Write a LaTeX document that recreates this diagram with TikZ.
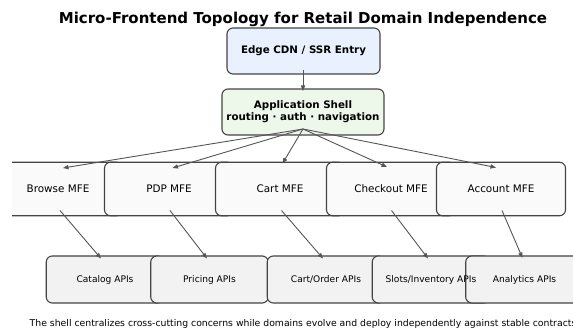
\documentclass[tikz,border=0pt]{standalone}
\usepackage{fontspec}
\setmainfont{DejaVu Sans}
\usetikzlibrary{arrows.meta,calc}
\definecolor{bordc}{HTML}{444444}
\definecolor{arrc}{HTML}{555555}
\definecolor{cdnfill}{HTML}{E8F1FD}
\definecolor{shellfill}{HTML}{EDF7EA}
\definecolor{mfefill}{HTML}{FAFAFA}
\definecolor{apifill}{HTML}{F2F2F2}
\tikzset{
  box/.style={draw=bordc, line width=1.1pt, rounded corners=6pt, inner sep=0pt},
  topbox/.style={box, minimum width=153pt, minimum height=46pt, fill=cdnfill},
  shellbox/.style={box, minimum width=162pt, minimum height=46pt, fill=shellfill},
  mfebox/.style={box, minimum width=129pt, minimum height=53.5pt, fill=mfefill},
  apibox/.style={box, minimum width=117.5pt, minimum height=47pt, fill=apifill},
  boldtxt/.style={font=\fontsize{10.3}{12.2}\selectfont\bfseries, align=center, inner sep=0pt},
  mfetxt/.style={font=\fontsize{10.4}{12}\selectfont, inner sep=0pt},
  apitxt/.style={font=\fontsize{9.1}{11}\selectfont, inner sep=0pt},
  arr/.style={draw=arrc, line width=0.9pt, -{Triangle[length=5.5pt,width=4.2pt]}},
}
\begin{document}
\begin{tikzpicture}[x=1pt,y=-1pt]
\useasboundingbox (0,0) rectangle (573,328);
\begin{scope}
\clip (12,0) rectangle (573,328);
% title
\node[font=\fontsize{15}{18}\selectfont\bfseries, inner sep=0pt] (title) at (303,19) {Micro-Frontend Topology for Retail Domain Independence};
% boxes
\node[topbox] (cdn) at (303.5,51) {};
\node[shellbox] (shell) at (303,112) {};
\node[mfebox] (browse) at (58,189) {};
\node[mfebox] (pdp) at (169,189) {};
\node[mfebox] (cart) at (280,189) {};
\node[mfebox] (checkout) at (391,189) {};
\node[mfebox] (account) at (501,189) {};
\node[apibox] (catalog) at (105,279.5) {};
\node[apibox] (pricing) at (209.5,279.5) {};
\node[apibox] (order) at (326,279.5) {};
\node[apibox] (slots) at (431,279.5) {};
\node[apibox] (analytics) at (524.5,279.5) {};
% texts
\node[boldtxt] (cdnt) at (cdn) {Edge CDN / SSR Entry};
\node[boldtxt] (shellt) at (shell) {Application Shell\\routing · auth · navigation};
\node[mfetxt] (browset) at (browse) {Browse MFE};
\node[mfetxt] (pdpt) at (pdp) {PDP MFE};
\node[mfetxt] (cartt) at (cart) {Cart MFE};
\node[mfetxt] (checkoutt) at (checkout) {Checkout MFE};
\node[mfetxt] (accountt) at (account) {Account MFE};
\node[apitxt] (catalogt) at (catalog) {Catalog APIs};
\node[apitxt] (pricingt) at (pricing) {Pricing APIs};
\node[apitxt] (ordert) at (order) {Cart/Order APIs};
\node[apitxt] (slotst) at (slots) {Slots/Inventory APIs};
\node[apitxt] (analyticst) at (analytics) {Analytics APIs};
% arrows
\coordinate (cdnout) at ($(cdn)+(-0.5,19)$);
\coordinate (shellin) at ($(shell)+(0,-21)$);
\draw[arr] (cdnout) -- (shellin);
\coordinate (shellout) at ($(shell)+(0,17)$);
\draw[arr] (shellout) -- ($(browse)+(5,-21)$);
\draw[arr] (shellout) -- ($(pdp)+(3.5,-21)$);
\draw[arr] (shellout) -- ($(cart)+(2.5,-25.5)$);
\draw[arr] (shellout) -- ($(checkout)+(-4,-22)$);
\draw[arr] (shellout) -- ($(account)+(-5,-21.5)$);
\draw[arr] ($(browse)+(2,21.5)$) -- ($(catalog)+(-4,-21)$);
\draw[arr] ($(pdp)+(1,21.5)$) -- ($(pricing)+(-2.5,-21)$);
\draw[arr] ($(cart)+(1.5,21.5)$) -- ($(order)+(-3,-21)$);
\draw[arr] ($(checkout)+(0.5,21.5)$) -- ($(slots)+(-3,-21)$);
\draw[arr] ($(account)+(1,21.5)$) -- ($(analytics)+(-2,-21.5)$);
% caption
\node[font=\fontsize{9.3}{11}\selectfont, inner sep=0pt] (caption) at (303,323.5) {The shell centralizes cross-cutting concerns while domains evolve and deploy independently against stable contracts};
\end{scope}
\end{tikzpicture}
\end{document}
